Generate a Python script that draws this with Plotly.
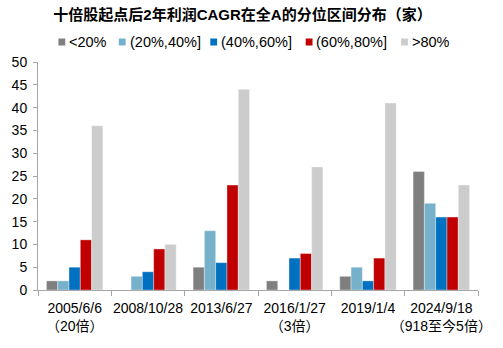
import plotly.graph_objects as go

categories = ["2005/6/6<br>（20倍）", "2008/10/28", "2013/6/27", "2016/1/27<br>（3倍）",
              "2019/1/4", "2024/9/18<br>（918至今5倍）"]
series_names = ["<20%", "(20%,40%]", "(40%,60%]", "(60%,80%]", ">80%"]
s_lt20 = [2, 0, 5, 2, 3, 26]
s_20_40 = [2, 3, 13, 0, 5, 19]
s_40_60 = [5, 4, 6, 7, 2, 16]
s_60_80 = [11, 9, 23, 8, 7, 16]
s_gt80 = [36, 10, 44, 27, 41, 23]
colors = ["#7F7F7F", "#75B1CB", "#0070C0", "#C00000", "#CCCCCC"]
y_ticks = [0, 5, 10, 15, 20, 25, 30, 35, 40, 45, 50]

W, H = 503, 348
L, R, T, B = 36, 15, 62, 58
PW, PH = W - L - R, H - T - B

def px_x(px):
    return (px - L) / PW

def px_y(py):
    return (H - B - py) / PH

fig = go.Figure()
for name, vals, c in zip(series_names, [s_lt20, s_20_40, s_40_60, s_60_80, s_gt80], colors):
    fig.add_trace(go.Bar(x=categories, y=vals, name=name, marker_color=c,
                         marker_line_color="rgba(255,255,255,0.6)", marker_line_width=0.6,
                         showlegend=False))

# legend drawn as squares + text
leg_sq_x = [57, 119, 213, 311, 409]
shapes = []
annotations = []
for name, c, sx in zip(series_names, colors, leg_sq_x):
    shapes.append(dict(type="rect", xref="paper", yref="paper",
                       x0=px_x(sx), x1=px_x(sx + 7), y0=px_y(45.5), y1=px_y(38.5),
                       fillcolor=c, line=dict(width=0)))
    annotations.append(dict(text=name, xref="paper", yref="paper", x=px_x(sx + 9), y=px_y(42),
                            xanchor="left", yanchor="middle", showarrow=False,
                            font=dict(size=14.5, color="#000000")))

font_family = "Liberation Sans, Arial, Noto Sans CJK SC, sans-serif"
fig.update_layout(
    width=W, height=H,
    margin=dict(l=L, r=R, t=T, b=B),
    paper_bgcolor="white", plot_bgcolor="white",
    barmode="group", bargap=0.23, bargroupgap=0,
    font=dict(family=font_family, size=14, color="#000000"),
    title=dict(text="<b>十倍股起点后2年利润CAGR在全A的分位区间分布（家）</b>",
               x=242.5 / W, xanchor="center", y=1 - 15 / H, yanchor="middle",
               font=dict(size=15, family="Liberation Sans, Noto Sans CJK SC, sans-serif")),
    shapes=shapes,
    annotations=annotations,
    showlegend=False,
)
fig.update_xaxes(type="category", tickson="boundaries", ticks="outside", ticklen=5,
                 tickcolor="#A6A6A6", showline=True, linecolor="#A6A6A6", linewidth=1,
                 showgrid=False, tickangle=0, ticklabelstandoff=5,
                 tickfont=dict(size=14, family="Liberation Sans, Noto Sans CJK SC, sans-serif"))
fig.update_yaxes(range=[0, 50], tickvals=y_ticks, ticks="outside", ticklen=4,
                 tickcolor="#A6A6A6", showline=True, linecolor="#A6A6A6", linewidth=1,
                 showgrid=False, zeroline=False, ticklabelstandoff=3, tickfont=dict(size=14))

fig.write_html("out.html")
